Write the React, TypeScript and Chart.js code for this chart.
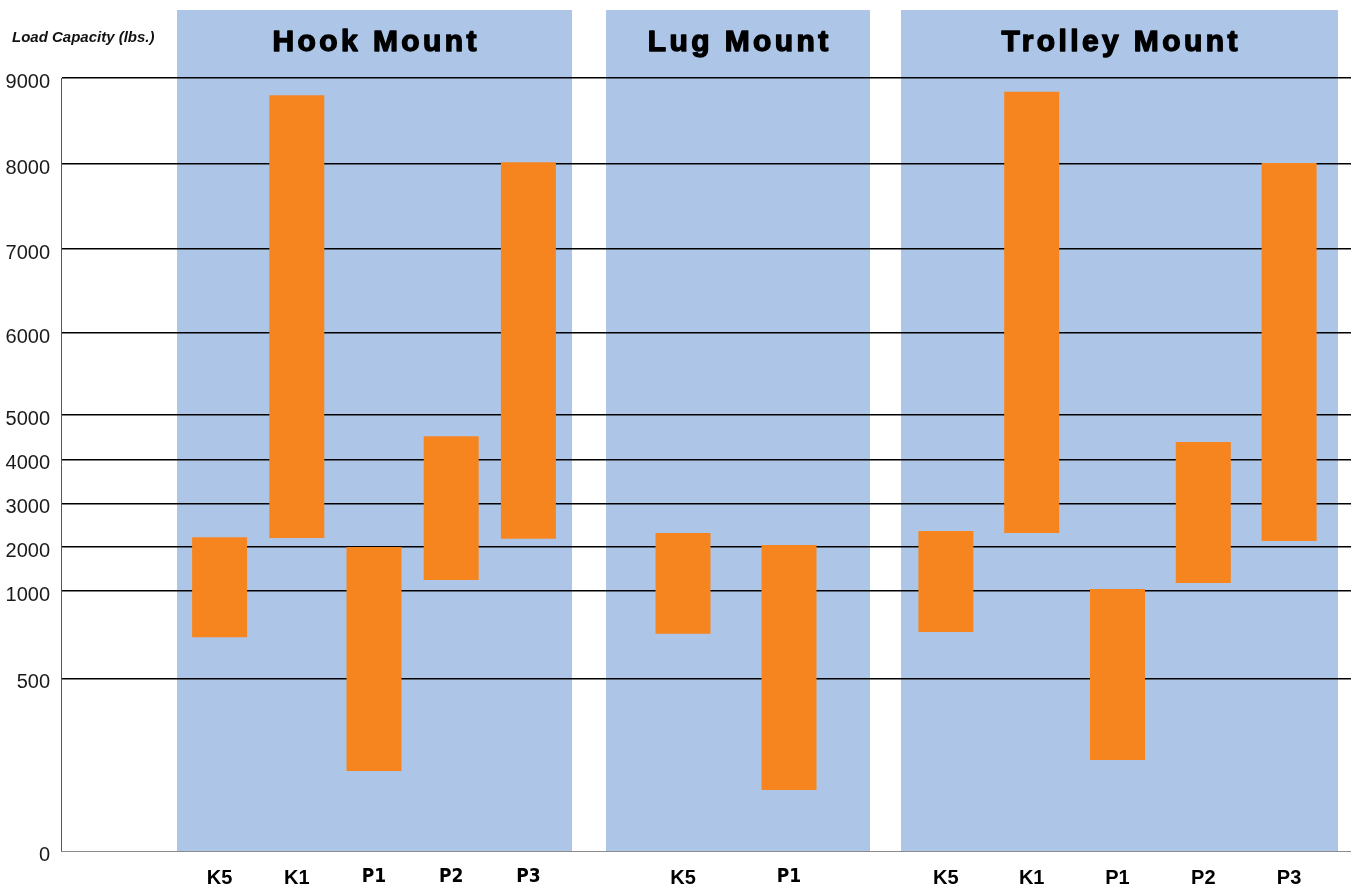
import React, { useEffect, useRef } from 'react';
import { Chart, registerables, LinearScale } from 'chart.js';

// ---------------- data ----------------
const Y_TITLE = 'Load Capacity (lbs.)';
const GROUP_NAMES = ['Hook Mount', 'Lug Mount', 'Trolley Mount'];

const HOOK_LABELS = ['K5', 'K1', 'P1', 'P2', 'P3'];
const HOOK_LOW = [735, 2200, 232, 1250, 2180];
const HOOK_HIGH = [2220, 8800, 1990, 4520, 8020];

const LUG_LABELS = ['K5', 'P1'];
const LUG_LOW = [755, 177];
const LUG_HIGH = [2315, 2040];

const TROLLEY_LABELS = ['K5', 'K1', 'P1', 'P2', 'P3'];
const TROLLEY_LOW = [765, 2315, 264, 1180, 2130];
const TROLLEY_HIGH = [2360, 8840, 1045, 4390, 8010];

const Y_TICKS = [0, 500, 1000, 2000, 3000, 4000, 5000, 6000, 7000, 8000, 9000];
// where each tick sits along the (non-uniform) value axis, 0 = bottom, 1 = top
const Y_TICK_FRACTIONS = [0, 0.2232, 0.3364, 0.3937, 0.4498, 0.5067, 0.5644, 0.6701, 0.7788, 0.8888, 1];

// ---------------- styles ----------------
const ORANGE = '#F6851F';
const BAND = '#ADC6E7';
const SANS = '"Liberation Sans", Arial, Helvetica, sans-serif';
const NARROW = '"Liberation Sans Narrow", "DejaVu Sans Condensed", "Liberation Sans", sans-serif';

// piecewise-linear value scale (the axis in the picture is not uniform)
class PiecewiseScale extends LinearScale {
  static id = 'piecewise';
  valueToDecimal(v: number): number {
    if (v <= Y_TICKS[0]) return Y_TICK_FRACTIONS[0];
    for (let i = 1; i < Y_TICKS.length; i++) {
      if (v <= Y_TICKS[i]) {
        const t = (v - Y_TICKS[i - 1]) / (Y_TICKS[i] - Y_TICKS[i - 1]);
        return Y_TICK_FRACTIONS[i - 1] + t * (Y_TICK_FRACTIONS[i] - Y_TICK_FRACTIONS[i - 1]);
      }
    }
    return Y_TICK_FRACTIONS[Y_TICK_FRACTIONS.length - 1];
  }
  getPixelForValue(value: any) {
    if (value === null || value === undefined || Number.isNaN(value)) return NaN;
    return (this as any).getPixelForDecimal(this.valueToDecimal(value));
  }
  getValueForPixel(pixel: number) {
    const d = (this as any).getDecimalForPixel(pixel);
    for (let i = 1; i < Y_TICK_FRACTIONS.length; i++) {
      if (d <= Y_TICK_FRACTIONS[i]) {
        const t = (d - Y_TICK_FRACTIONS[i - 1]) / (Y_TICK_FRACTIONS[i] - Y_TICK_FRACTIONS[i - 1]);
        return Y_TICKS[i - 1] + t * (Y_TICKS[i] - Y_TICKS[i - 1]);
      }
    }
    return Y_TICKS[Y_TICKS.length - 1];
  }
}

Chart.register(...registerables, PiecewiseScale as any);

// x axes laid side by side (stacked horizontally), widths by weight
const X_AXES = [
  { id: 'xPadL', weight: 116, labels: [''] },
  { id: 'xHookL', weight: 4, labels: [''] },
  { id: 'xHook', weight: 386, labels: HOOK_LABELS, narrowP: true },
  { id: 'xHookR', weight: 5, labels: [''] },
  { id: 'xGap1', weight: 34, labels: [''] },
  { id: 'xLugL', weight: 24, labels: [''] },
  { id: 'xLug', weight: 212, labels: LUG_LABELS, narrowP: true },
  { id: 'xLugR', weight: 28, labels: [''] },
  { id: 'xGap2', weight: 31, labels: [''] },
  { id: 'xTrolleyL', weight: 2, labels: [''] },
  { id: 'xTrolley', weight: 429, labels: TROLLEY_LABELS },
  { id: 'xTrolleyR', weight: 6, labels: [''] },
  { id: 'xPadR', weight: 13, labels: [''] },
];

const GROUP_AXES = [
  ['xHookL', 'xHook', 'xHookR'],
  ['xLugL', 'xLug', 'xLugR'],
  ['xTrolleyL', 'xTrolley', 'xTrolleyR'],
];

const bandsPlugin = {
  id: 'bands',
  beforeDraw(chart: any) {
    const { ctx, chartArea } = chart;
    const top = 10;
    ctx.save();
    // axis caption
    ctx.font = `italic bold 15px ${SANS}`;
    ctx.fillStyle = '#111';
    ctx.textAlign = 'left';
    ctx.textBaseline = 'middle';
    ctx.fillText(Y_TITLE, 12, 38);
    GROUP_AXES.forEach((ids, gi) => {
      const l = Math.min(...ids.map((id) => chart.scales[id].left));
      const r = Math.max(...ids.map((id) => chart.scales[id].right));
      ctx.fillStyle = BAND;
      ctx.fillRect(l, top, r - l, chartArea.bottom - top);
      const cx = (l + r) / 2;
      ctx.font = `bold 30px ${SANS}`;
      try { (ctx as any).letterSpacing = '3.4px'; } catch (e) {}
      ctx.textAlign = 'center';
      ctx.textBaseline = 'middle';
      ctx.fillStyle = '#000';
      ctx.strokeStyle = '#000';
      ctx.lineWidth = 1.4;
      ctx.lineJoin = 'round';
      ctx.fillText(GROUP_NAMES[gi], cx + 1.7, 43);
      ctx.strokeText(GROUP_NAMES[gi], cx + 1.7, 43);
      try { (ctx as any).letterSpacing = '0px'; } catch (e) {}
    });
    ctx.restore();
  },
};

function makeXScales() {
  const scales: any = {};
  X_AXES.forEach((a) => {
    scales[a.id] = {
      type: 'category',
      axis: 'x',
      position: 'bottom',
      stack: 'xrow',
      stackWeight: a.weight,
      labels: a.labels,
      offset: true,
      grid: { display: false, drawTicks: false },
      border: { display: true, color: '#8a8a8a', width: 1 },
      ticks: {
        padding: 16,
        color: '#000',
        autoSkip: false,
        maxRotation: 0,
        font: (ctx: any) => {
          const lbl = ctx && ctx.tick ? String(ctx.tick.label) : '';
          const narrow = a.narrowP && lbl.startsWith('P');
          return { family: narrow ? NARROW : SANS, size: narrow ? 19 : 20, weight: 'bold', lineHeight: 1.1 };
        },
      },
      afterFit: (s: any) => {
        s.height = 35;
        s.paddingLeft = 0;
        s.paddingRight = 0;
      },
    };
  });
  return scales;
}

export default function App() {
  const ref = useRef<HTMLCanvasElement | null>(null);

  useEffect(() => {
    if (!ref.current) return;
    const bar = (label: string, axis: string, lo: number[], hi: number[]) => ({
      label,
      xAxisID: axis,
      yAxisID: 'y',
      grouped: false,
      data: lo.map((v, i) => [v, hi[i]]),
      backgroundColor: ORANGE,
      borderWidth: 0,
      maxBarThickness: 55,
    });

    const chart = new Chart(ref.current, {
      type: 'bar',
      data: {
        datasets: [
          bar(GROUP_NAMES[0], 'xHook', HOOK_LOW, HOOK_HIGH),
          bar(GROUP_NAMES[1], 'xLug', LUG_LOW, LUG_HIGH),
          bar(GROUP_NAMES[2], 'xTrolley', TROLLEY_LOW, TROLLEY_HIGH),
        ] as any,
      },
      options: {
        responsive: false,
        animation: false,
        layout: { padding: { left: 0, top: 78, right: 0, bottom: 0 } },
        plugins: {
          legend: { display: false },
          tooltip: { enabled: false },
          title: { display: false },
        },
        scales: {
          y: {
            type: 'piecewise' as any,
            position: 'left',
            stacked: false,
            min: 0,
            max: 9000,
            afterBuildTicks: (s: any) => {
              s.ticks = Y_TICKS.map((v) => ({ value: v }));
            },
            afterFit: (s: any) => {
              s.width = 61;
            },
            grid: {
              drawTicks: false,
              lineWidth: 1.5,
              color: (ctx: any) => (ctx.tick && ctx.tick.value === 0 ? 'rgba(0,0,0,0)' : '#000'),
            },
            border: { display: true, color: '#555', width: 1 },
            ticks: {
              padding: 11,
              labelOffset: 4.5,
              color: '#1a1a1a',
              autoSkip: false,
              font: { family: SANS, size: 20 },
              callback: (v: any) => String(v),
            },
          },
          ...makeXScales(),
        } as any,
      },
      plugins: [bandsPlugin],
    });
    return () => chart.destroy();
  }, []);

  return (
    <div style={{ position: 'fixed', left: 0, top: 0, width: 1351, height: 886, background: '#fff' }}>
      <canvas ref={ref} width={1351} height={886} style={{ display: 'block' }} />
    </div>
  );
}
